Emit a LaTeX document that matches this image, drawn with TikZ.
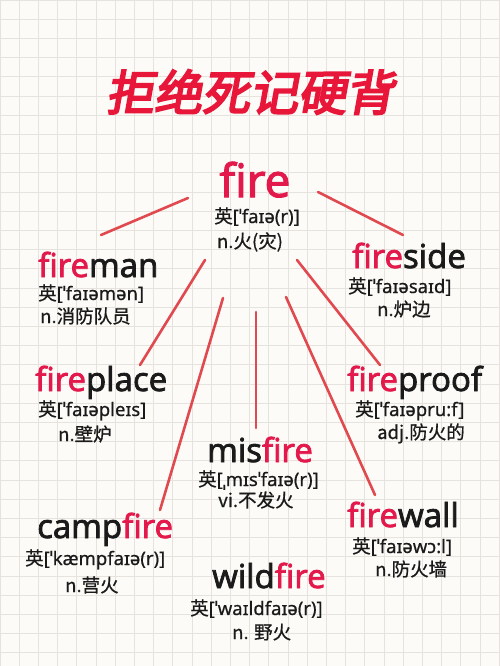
\documentclass[tikz,border=0pt]{standalone}
\usepackage{fontspec}
\setmainfont{Noto Sans}[FakeBold=0.6]
\newfontfamily\cjk{Noto Sans CJK SC}[FakeBold=0.8]
\newfontfamily\wordfont{Open Sans}[FakeBold=2.4]
\newfontfamily\titlefont{Noto Sans CJK SC}[FakeSlant=0.18,FakeBold=4]

\definecolor{paper}{HTML}{FCFBF7}
\definecolor{gridgray}{HTML}{E6E3DE}
\definecolor{firered}{HTML}{E3194B}
\definecolor{titlered}{HTML}{E8173A}
\definecolor{linered}{HTML}{E0494F}
\definecolor{ink}{HTML}{1A1A1A}

\newcommand{\fr}{\textcolor{firered}{fire}}
\newcommand{\ying}{{\cjk 英}}

\tikzset{
  word/.style={anchor=base west, inner sep=0pt, text=ink, font=\wordfont\fontsize{33}{33}\selectfont},
  pron/.style={anchor=base west, inner sep=0pt, text=ink, font=\fontsize{18.5}{19}\selectfont},
  mean/.style={anchor=base west, inner sep=0pt, text=ink, font=\cjk\fontsize{18.5}{19}\selectfont},
  link/.style={draw=linered, line width=2.6pt, line cap=round},
}

\begin{document}
\begin{tikzpicture}[x=1pt,y=-1pt]
  \useasboundingbox (0,0) rectangle (500,666);
  \fill[paper] (0,0) rectangle (500,666);
  \foreach \i in {0,...,26} {
    \draw[gridgray, line width=0.8pt] (\i*19.2,0) -- (\i*19.2,666);
  }
  \foreach \j in {0,...,35} {
    \draw[gridgray, line width=0.8pt] (0,\j*19.2) -- (500,\j*19.2);
  }

  % title
  \node[inner sep=0pt, text=titlered, font=\titlefont\fontsize{48}{48}\selectfont] (title) at (250,92) {拒绝死记硬背};

  % root word
  \node[word, anchor=base, text=firered, font=\wordfont\fontsize{46}{46}\selectfont] (fire) at (255,197) {fire};
  \node[pron, anchor=base] (fire-p) at (257,223) {\ying[ˈfaɪə(r)]};
  \node[mean, anchor=base] (fire-m) at (250,248) {n.火(灾)};

  % left column
  \node[word] (fireman) at (38,277) {\fr man};
  \node[pron] (fireman-p) at (38,300) {\ying[ˈfaɪəmən]};
  \node[mean] (fireman-m) at (40,323) {n.消防队员};

  \node[word] (fireplace) at (35,391) {\fr place};
  \node[pron] (fireplace-p) at (38,416) {\ying[ˈfaɪəpleɪs]};
  \node[mean] (fireplace-m) at (58,441) {n.壁炉};

  \node[word] (campfire) at (37,538) {camp\fr};
  \node[pron] (campfire-p) at (25,565) {\ying[ˈkæmpfaɪə(r)]};
  \node[mean] (campfire-m) at (65,592) {n.营火};

  % right column
  \node[word] (fireside) at (352,268) {\fr side};
  \node[pron] (fireside-p) at (348,293) {\ying[ˈfaɪəsaɪd]};
  \node[mean] (fireside-m) at (377,316) {n.炉边};

  \node[word] (fireproof) at (347,391) {\fr proof};
  \node[pron] (fireproof-p) at (355,416) {\ying[ˈfaɪəpru:f]};
  \node[mean] (fireproof-m) at (377,439) {adj.防火的};

  \node[word] (firewall) at (347,527) {\fr wall};
  \node[pron] (firewall-p) at (352,553) {\ying[ˈfaɪəwɔ:l]};
  \node[mean] (firewall-m) at (375,576) {n.防火墙};

  % middle
  \node[word] (misfire) at (207,462) {mis\fr};
  \node[pron] (misfire-p) at (198,486) {\ying[ˌmɪsˈfaɪə(r)]};
  \node[mean] (misfire-m) at (218,507) {vi.不发火};

  \node[word] (wildfire) at (212,588) {wild\fr};
  \node[pron] (wildfire-p) at (190,615) {\ying[ˈwaɪldfaɪə(r)]};
  \node[mean] (wildfire-m) at (232,639) {n. 野火};

  % line ends
  \coordinate (man-a) at (188,198);  \coordinate (man-b) at (101,235);
  \coordinate (side-a) at (318,192); \coordinate (side-b) at (403,235);
  \coordinate (place-a) at (205,260); \coordinate (place-b) at (140,365);
  \coordinate (proof-a) at (297,260); \coordinate (proof-b) at (380,365);
  \coordinate (camp-a) at (223,298); \coordinate (camp-b) at (160,510);
  \coordinate (mis-a) at (256,312);  \coordinate (mis-b) at (256,428);
  \coordinate (wall-a) at (286,297); \coordinate (wall-b) at (375,495);

  \draw[link] (man-a) -- (man-b);
  \draw[link] (side-a) -- (side-b);
  \draw[link] (place-a) -- (place-b);
  \draw[link] (proof-a) -- (proof-b);
  \draw[link] (camp-a) -- (camp-b);
  \draw[link] (mis-a) -- (mis-b);
  \draw[link] (wall-a) -- (wall-b);
\end{tikzpicture}
\end{document}
